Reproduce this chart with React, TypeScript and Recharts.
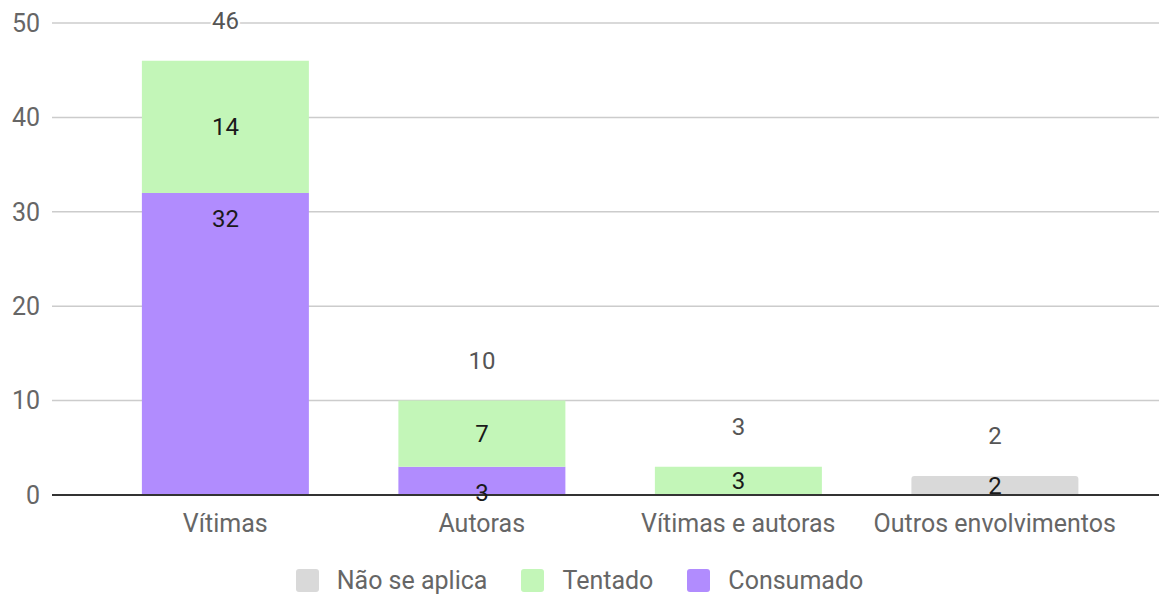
import React from 'react';
import { BarChart, Bar, XAxis, YAxis, CartesianGrid, LabelList, Legend } from 'recharts';

const categories = ['Vítimas', 'Autoras', 'Vítimas e autoras', 'Outros envolvimentos'];
const consumado = [32, 3, 0, 0];
const tentado = [14, 7, 3, 0];
const naoSeAplica = [0, 0, 0, 2];
const yTicks = [0, 10, 20, 30, 40, 50];

const seriesKeys = ['consumado', 'tentado', 'naoSeAplica'];

const data = categories.map((c, i) => {
  const vals = [consumado[i], tentado[i], naoSeAplica[i]];
  const total = vals.reduce((a, b) => a + b, 0);
  let topIdx = -1;
  vals.forEach((v, k) => { if (v) topIdx = k; });
  const row: any = { name: c, consumado: consumado[i], tentado: tentado[i], naoSeAplica: naoSeAplica[i], total };
  seriesKeys.forEach((k, j) => { row['total_' + k] = j === topIdx ? total : 0; });
  return row;
});

const FONT = 'Roboto, "Noto Sans", sans-serif';

const legendItems = [
  { label: 'Não se aplica', color: '#d9d9d9' },
  { label: 'Tentado', color: '#c3f6b8' },
  { label: 'Consumado', color: '#b18cfe' },
];

const LegendContent = () => (
  <div style={{ height: 59, display: 'flex', justifyContent: 'center', alignItems: 'flex-start', paddingTop: 34, boxSizing: 'border-box', fontFamily: FONT, fontSize: 25, color: '#666' }}>
    {legendItems.map((it) => (
      <div key={it.label} style={{ display: 'flex', alignItems: 'center', margin: '0 17px', height: 23 }}>
        <div style={{ width: 23, height: 23, borderRadius: 3, background: it.color, marginRight: 18 }} />
        <span style={{ lineHeight: '23px' }}>{it.label}</span>
      </div>
    ))}
  </div>
);

const innerLabel = (pos: 'center' | 'insideTop', offset = 0) => (props: any) => {
  const { x, y, width, height, value } = props;
  if (!value) return null;
  const cx = Number(x) + Number(width) / 2;
  const cy = pos === 'center' ? Number(y) + Number(height) / 2 : Number(y) + offset;
  return (
    <text x={cx} y={cy} textAnchor="middle" dominantBaseline="central" fontFamily={FONT} fontSize={24} fill="#1a1a1a">
      {value}
    </text>
  );
};

const totalLabel = (props: any) => {
  const { x, y, width, value } = props;
  if (!value) return null;
  return (
    <text
      x={Number(x) + Number(width) / 2}
      y={Number(y) - 40}
      textAnchor="middle"
      dominantBaseline="central"
      fontFamily={FONT}
      fontSize={24}
      fill="#555"
      stroke="#fff"
      strokeWidth={4}
      paintOrder="stroke"
    >
      {value}
    </text>
  );
};

export default function App() {
  return (
    <div style={{ position: 'absolute', left: 0, top: 0 }}>
      <BarChart width={1159} height={594} data={data} margin={{ top: 23, right: 0, left: 0, bottom: 0 }} barCategoryGap="17.5%">
        <CartesianGrid vertical={false} stroke="#cccccc" strokeWidth={1.5} />
        <XAxis
          dataKey="name"
          height={40}
          padding={{ left: 45, right: 36 }}
          tickLine={false}
          tickSize={0}
          tickMargin={19}
          axisLine={{ stroke: '#333', strokeWidth: 2 }}
          tick={{ fill: '#666', fontSize: 25, fontFamily: FONT }}
        />
        <YAxis
          width={52}
          domain={[0, 50]}
          ticks={yTicks}
          axisLine={false}
          tickLine={false}
          tickSize={0}
          tickMargin={12}
          tick={{ fill: '#666', fontSize: 25, fontFamily: FONT }}
        />
        <Legend verticalAlign="bottom" content={<LegendContent />} />
        <Bar dataKey="consumado" name="Consumado" stackId="a" fill="#b18cfe" isAnimationActive={false}>
          <LabelList dataKey="consumado" content={innerLabel('insideTop', 26)} />
          <LabelList dataKey="total_consumado" content={totalLabel} />
        </Bar>
        <Bar dataKey="tentado" name="Tentado" stackId="a" fill="#c3f6b8" isAnimationActive={false}>
          <LabelList dataKey="tentado" content={innerLabel('center')} />
          <LabelList dataKey="total_tentado" content={totalLabel} />
        </Bar>
        <Bar dataKey="naoSeAplica" name="Não se aplica" stackId="a" fill="#d9d9d9" radius={[3, 3, 0, 0]} isAnimationActive={false}>
          <LabelList dataKey="naoSeAplica" content={innerLabel('center')} />
          <LabelList dataKey="total_naoSeAplica" content={totalLabel} />
        </Bar>
      </BarChart>
    </div>
  );
}
